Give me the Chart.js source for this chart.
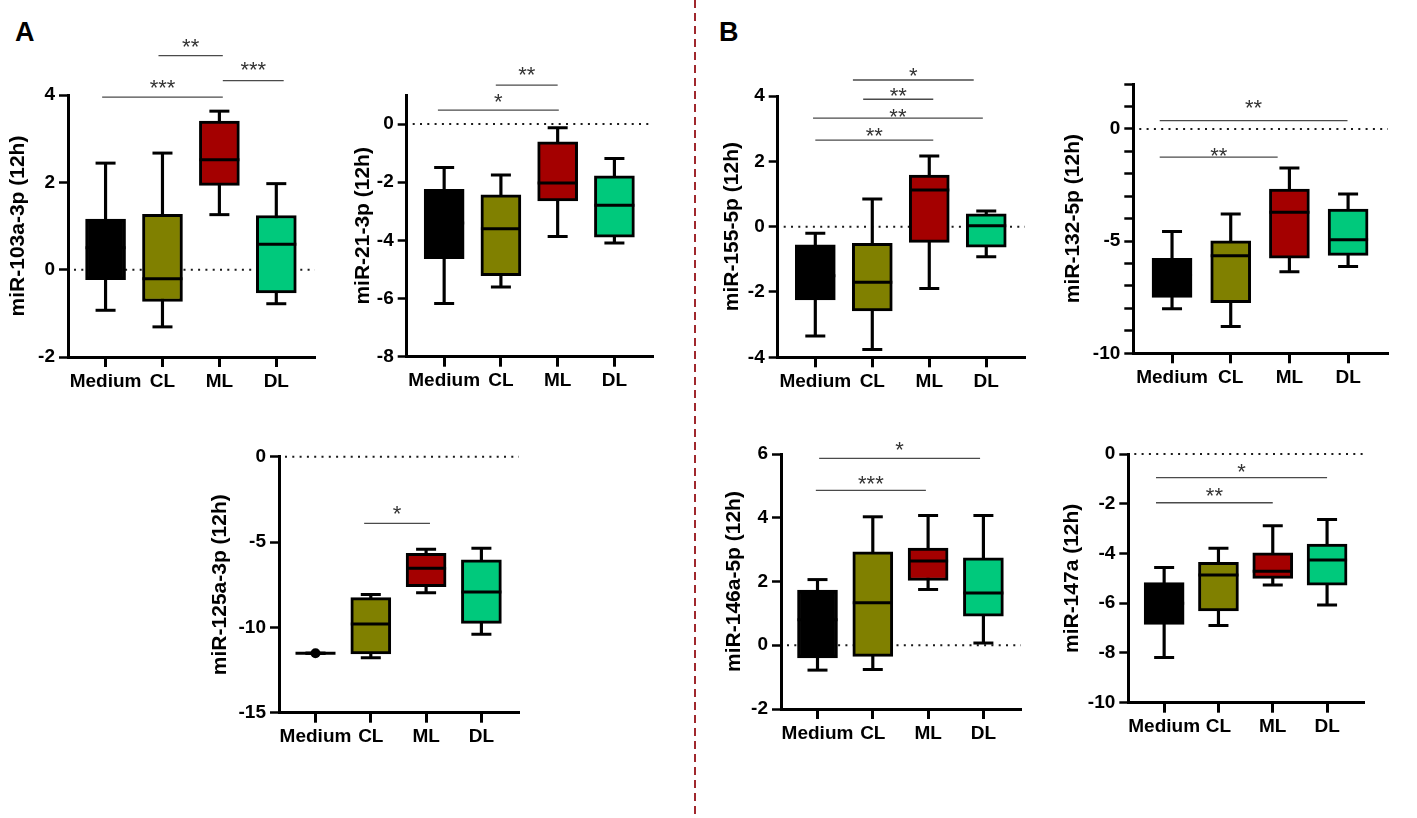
<!DOCTYPE html>
<html><head>
<meta charset="utf-8">
<script src="https://cdn.jsdelivr.net/npm/chart.js"></script>
<title>miRNA expression box plots (12h)</title>
<style>
body { margin: 0; background: #fff; }
#fig { position: relative; width: 1417px; height: 818px; overflow: hidden; font-family: "Liberation Sans", Arial, sans-serif; }
#fig canvas { position: absolute; }
.tag { position: absolute; font-weight: bold; font-size: 27px; line-height: 1; color: #000; }
#divider { position: absolute; left: 694px; top: 0; width: 2px; height: 818px;
  background: repeating-linear-gradient(to bottom, #a0282d 0 8px, transparent 8px 13px); }
</style>
</head>
<body>
<div id="fig">
  <div class="tag" style="left:15px;top:19px">A</div>
  <div class="tag" style="left:719px;top:19px">B</div>
  <div id="divider"></div>
</div>

<script>
const categories = ['Medium', 'CL', 'ML', 'DL'];
const groupColors = ['#000000', '#808000', '#a40000', '#00c97c'];

// one row per group: [min, Q1, median, Q3, max]
const box103a = [[-0.93, -0.23, 0.5, 1.16, 2.44], [-1.31, -0.73, -0.21, 1.27, 2.67], [1.26, 1.93, 2.52, 3.40, 3.63], [-0.78, -0.53, 0.58, 1.24, 1.97]];
const box21 = [[-6.17, -4.63, -3.4, -2.24, -1.49], [-5.6, -5.21, -3.6, -2.43, -1.75], [-3.87, -2.64, -2.03, -0.61, -0.13], [-4.09, -3.89, -2.79, -1.78, -1.18]];
const box125a = [[-11.52, -11.52, -11.52, -11.52, -11.52], [-11.78, -11.56, -9.8, -8.26, -8.07], [-7.97, -7.62, -6.54, -5.66, -5.43], [-10.41, -9.77, -7.93, -6.05, -5.37]];
const single125a = [-11.52, null, null, null];
const box155 = [[-3.35, -2.24, -1.5, -0.56, -0.2], [-3.76, -2.58, -1.7, -0.51, 0.85], [-1.89, -0.48, 1.12, 1.58, 2.16], [-0.92, -0.63, 0.03, 0.39, 0.48]];
const box132 = [[-8.02, -7.51, -6.5, -5.77, -4.57], [-8.81, -7.74, -5.65, -4.99, -3.79], [-6.37, -5.76, -3.72, -2.68, -1.74], [-6.13, -5.64, -4.94, -3.57, -2.9]];
const box146a = [[-0.78, -0.4, 0.8, 1.73, 2.06], [-0.76, -0.35, 1.33, 2.93, 4.03], [1.75, 2.03, 2.64, 3.05, 4.07], [0.07, 0.91, 1.64, 2.74, 4.07]];
const box147a = [[-8.18, -6.85, -6.0, -5.17, -4.56], [-6.9, -6.31, -4.87, -4.36, -3.79], [-5.27, -5.0, -4.71, -3.97, -2.88], [-6.07, -5.27, -4.26, -3.62, -2.63]];

// significance bars: [from group, to group, line value, star value, label]
const sig103a = [[0.93, 2.06, 4.90, 5.23, '**'], [-0.06, 2.06, 3.95, 4.30, '***'], [2.06, 3.13, 4.33, 4.69, '***']];
const sig21 = [[0.91, 2.0, 1.34, 1.87, '**'], [-0.11, 2.02, 0.48, 0.94, '*']];
const sig125a = [[0.88, 2.07, -3.91, -3.03, '*']];
const sig155 = [[0.66, 2.78, 4.49, 4.78, '*'], [0.84, 2.07, 3.90, 4.16, '**'], [-0.04, 2.94, 3.32, 3.54, '**'], [0.0, 2.07, 2.65, 2.96, '**']];
const sig132 = [[-0.21, 2.99, 0.37, 1.19, '**'], [-0.21, 1.8, -1.26, -0.97, '**']];
const sig146a = [[0.03, 2.94, 5.86, 6.30, '*'], [-0.03, 1.96, 4.86, 5.22, '***']];
const sig147a = [[-0.15, 3.0, -0.95, -0.48, '*'], [-0.15, 2.0, -1.96, -1.45, '**']];

// y axis ticks and ranges
const ticks103a = [-2, 0, 2, 4];
const ticks21 = [-8, -6, -4, -2, 0];
const ticks125a = [-15, -10, -5, 0];
const ticks155 = [-4, -2, 0, 2, 4];
const ticks132 = [-10, -9, -8, -7, -6, -5, -4, -3, -2, -1, 0, 1, 2];
const labels132 = [-10, -5, 0];
const ticks146a = [-2, 0, 2, 4, 6];
const ticks147a = [-10, -8, -6, -4, -2, 0];

const xRange = [-0.66, 3.68];

const FAMILY = '"Liberation Sans", Arial, sans-serif';

// layout: L/T/R/B = plot area in page pixels, W = y-axis band width, top = canvas top
const panels = [
  {title: 'miR-103a-3p (12h)', boxes: box103a, sig: sig103a, ticks: ticks103a, range: [-2, 4], L: 68, T: 95, R: 330, B: 357, W: 62.5, top: 25},
  {title: 'miR-21-3p (12h)', boxes: box21, sig: sig21, ticks: ticks21, range: [-8, 1], L: 406.7, T: 95, R: 668, B: 356.7, W: 55.7, top: 25},
  {title: 'miR-125a-3p (12h)', boxes: box125a, sig: sig125a, ticks: ticks125a, range: [-15, 0], single: single125a, L: 279, T: 456.7, R: 534, B: 712.7, W: 71, top: 425},
  {title: 'miR-155-5p (12h)', boxes: box155, sig: sig155, ticks: ticks155, range: [-4, 4], L: 777.7, T: 96, R: 1040, B: 357.3, W: 57.7, top: 25},
  {title: 'miR-132-5p (12h)', boxes: box132, sig: sig132, ticks: ticks132, labels: labels132, range: [-10, 2], L: 1133.3, T: 84, R: 1402.3, B: 353.3, W: 72.3, top: 25},
  {title: 'miR-146a-5p (12h)', boxes: box146a, sig: sig146a, ticks: ticks146a, range: [-2, 6], L: 781, T: 454, R: 1036, B: 709, W: 59, top: 425},
  {title: 'miR-147a (12h)', boxes: box147a, sig: sig147a, ticks: ticks147a, range: [-10, 0], L: 1128.3, T: 454, R: 1378.3, B: 702.7, W: 68.3, top: 425}
];

function makeChart(p) {
  const fig = document.getElementById('fig');
  const cv = document.createElement('canvas');
  const left = Math.round(p.L - p.W);
  const yBand = p.L - left;
  const padTop = p.T - p.top;
  const width = Math.ceil(yBand + (p.R - p.L) + 8);
  const height = Math.ceil(padTop + (p.B - p.T) + 50);
  const padRight = width - yBand - (p.R - p.L);
  const xBand = height - padTop - (p.B - p.T);
  cv.width = width;
  cv.height = height;
  cv.style.left = left + 'px';
  cv.style.top = p.top + 'px';
  fig.appendChild(cv);

  const boxData = p.boxes.map((b, i) => ({x: i, y: [b[1], b[3]]}));
  const whiskerData = p.boxes.map((b, i) => ({x: i, y: [b[0], b[4]]}));
  const medianData = p.boxes.map((b, i) => ({x: i, y: b[2]}));
  const capData = p.boxes.flatMap((b, i) => [{x: i, y: b[0]}, {x: i, y: b[4]}]);
  const singleData = (p.single || []).map((v, i) => v === null ? null : {x: i, y: v}).filter(Boolean);

  const extras = {
    id: 'extras',
    beforeDatasetsDraw(chart) {
      const {ctx, chartArea, scales: {y}} = chart;
      const y0 = y.getPixelForValue(0);
      ctx.save();
      ctx.strokeStyle = '#1a1a1a';
      ctx.lineWidth = 2;
      ctx.setLineDash([2, 5.3]);
      ctx.beginPath();
      ctx.moveTo(chartArea.left + 6, y0);
      ctx.lineTo(chartArea.right, y0);
      ctx.stroke();
      ctx.restore();
    },
    afterDatasetsDraw(chart) {
      const {ctx, scales: {x, y}} = chart;
      ctx.save();
      p.sig.forEach(s => {
        const x1 = x.getPixelForValue(s[0]);
        const x2 = x.getPixelForValue(s[1]);
        const yl = y.getPixelForValue(s[2]);
        const ys = y.getPixelForValue(s[3]);
        ctx.strokeStyle = '#4a4a4a';
        ctx.lineWidth = 1.3;
        ctx.beginPath();
        ctx.moveTo(x1, yl);
        ctx.lineTo(x2, yl);
        ctx.stroke();
        ctx.fillStyle = '#333';
        ctx.font = '22px ' + FAMILY;
        ctx.textAlign = 'center';
        ctx.textBaseline = 'alphabetic';
        ctx.fillText(s[4], (x1 + x2) / 2, ys + 12.6);
      });
      ctx.restore();
    }
  };

  const tickFont = {family: FAMILY, size: 19, weight: 'bold'};

  new Chart(cv, {
    type: 'bar',
    data: {
      datasets: [
        {type: 'bar', data: whiskerData, backgroundColor: '#000', borderWidth: 0, barThickness: 2.5, grouped: false, order: 4},
        {type: 'bar', data: boxData, backgroundColor: groupColors, borderColor: '#000', borderWidth: 3,
          borderSkipped: false, barThickness: 40, grouped: false, order: 3},
        {type: 'scatter', data: medianData, pointStyle: 'line', pointRadius: 20, pointBorderWidth: 3,
          pointBorderColor: '#000', order: 2},
        {type: 'scatter', data: capData, pointStyle: 'line', pointRadius: 10, pointBorderWidth: 3,
          pointBorderColor: '#000', order: 1},
        {type: 'scatter', data: singleData, pointStyle: 'circle', pointRadius: 5, pointBorderWidth: 0,
          pointBackgroundColor: '#000', order: 0}
      ]
    },
    options: {
      responsive: false,
      animation: false,
      events: [],
      layout: {padding: {left: 0, top: padTop, right: padRight, bottom: 0}},
      plugins: {legend: {display: false}, tooltip: {enabled: false}},
      scales: {
        x: {
          type: 'linear', min: xRange[0], max: xRange[1], offset: false,
          afterBuildTicks: s => { s.ticks = categories.map((c, i) => ({value: i})); },
          afterFit: s => { s.height = xBand; },
          ticks: {color: '#000', font: tickFont, padding: 3, maxRotation: 0, autoSkip: false,
            callback: v => categories[v]},
          grid: {offset: false, drawOnChartArea: false, drawTicks: true, tickLength: 10, tickWidth: 3, tickColor: '#000'},
          border: {color: '#000', width: 3}
        },
        y: {
          type: 'linear', min: p.range[0], max: p.range[1],
          afterBuildTicks: s => { s.ticks = p.ticks.map(v => ({value: v})); },
          afterFit: s => { s.width = yBand; },
          ticks: {color: '#000', font: tickFont, padding: 4, autoSkip: false,
            callback: v => (!p.labels || p.labels.includes(v)) ? String(v) : ''},
          grid: {drawOnChartArea: false, drawTicks: true, tickLength: 9, tickWidth: 2.5, tickColor: '#000'},
          border: {color: '#000', width: 3},
          title: {display: true, text: p.title, color: '#000', padding: 0,
            font: {family: FAMILY, size: 21, weight: 'bold'}}
        }
      }
    },
    plugins: [extras]
  });
}

panels.forEach(makeChart);
</script>
</body></html>
